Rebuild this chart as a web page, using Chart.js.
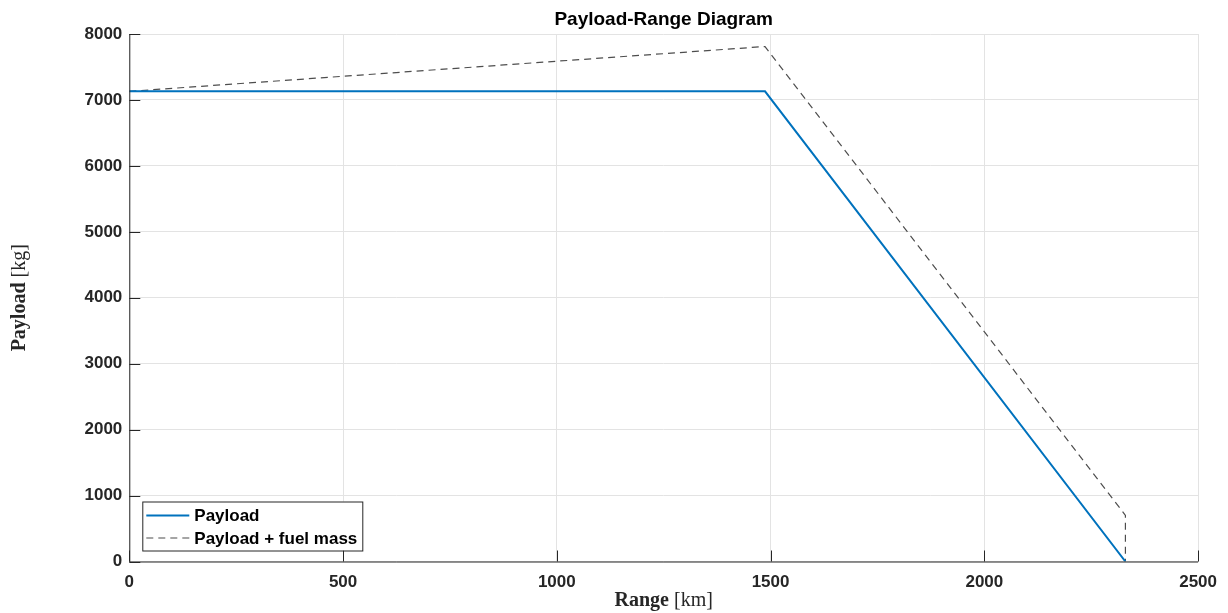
<!DOCTYPE html>
<html><head><meta charset="utf-8">
<script src="https://cdn.jsdelivr.net/npm/chart.js@4.4.0/dist/chart.umd.min.js"></script>
<style>html,body{margin:0;padding:0;background:#fff}#wrap{width:1228px;height:613px}</style>
</head><body><div id="wrap"><canvas id="c" width="1228" height="613"></canvas></div>
<script>
const payloadRange = [0, 1487, 2330];
const payloadMass = [7130, 7130, 0];
const totalRange = [0, 1487, 2330, 2330];
const totalMass = [7130, 7810, 700, 0];
const xTicks = [0, 500, 1000, 1500, 2000, 2500];
const yTicks = [0, 1000, 2000, 3000, 4000, 5000, 6000, 7000, 8000];
const seriesNames = ['Payload', 'Payload + fuel mass'];
const chartTitle = 'Payload-Range Diagram';

const pts = (xs, ys) => xs.map((x, i) => ({x, y: ys[i]}));
const AX = '#262626';

const overlay = {
  id: 'overlay',
  afterDraw(chart) {
    const ctx = chart.ctx, a = chart.chartArea, xs = chart.scales.x, ys = chart.scales.y;
    ctx.save();
    ctx.strokeStyle = AX; ctx.lineWidth = 1;
    ctx.beginPath();
    ctx.moveTo(a.left + 0.5, a.top); ctx.lineTo(a.left + 0.5, a.bottom + 0.5);
    ctx.lineTo(a.right, a.bottom + 0.5);
    ctx.stroke();
    ctx.beginPath();
    xTicks.forEach(v => { const px = Math.round(xs.getPixelForValue(v)) + 0.5; ctx.moveTo(px, a.bottom); ctx.lineTo(px, a.bottom - 11); });
    yTicks.forEach(v => { const py = Math.round(ys.getPixelForValue(v)) + 0.5; ctx.moveTo(a.left, py); ctx.lineTo(a.left + 11, py); });
    ctx.stroke();
    ctx.fillStyle = '#000';
    ctx.font = 'bold 19px "Liberation Sans", Arial, sans-serif';
    ctx.textAlign = 'center'; ctx.textBaseline = 'middle';
    ctx.fillText(chartTitle, (a.left + a.right) / 2, 20);
    const drawMixed = (bold, normal, cx, cy) => {
      ctx.font = 'bold 20px "Liberation Serif", serif';
      const w1 = ctx.measureText(bold).width;
      ctx.font = '20px "Liberation Serif", serif';
      const w2 = ctx.measureText(normal).width;
      const x0 = cx - (w1 + w2) / 2;
      ctx.textAlign = 'left'; ctx.textBaseline = 'middle';
      ctx.fillStyle = '#262626';
      ctx.font = 'bold 20px "Liberation Serif", serif';
      ctx.fillText(bold, x0, cy);
      ctx.font = '20px "Liberation Serif", serif';
      ctx.fillText(normal, x0 + w1, cy);
    };
    drawMixed('Range', ' [km]', (a.left + a.right) / 2, 601);
    ctx.save();
    ctx.translate(20, (a.top + a.bottom) / 2);
    ctx.rotate(-Math.PI / 2);
    drawMixed('Payload', ' [kg]', 0, 0);
    ctx.restore();
    const lx = a.left + 13, ly = a.bottom - 60, lw = 220, lh = 49;
    ctx.fillStyle = '#fff'; ctx.fillRect(lx, ly, lw, lh);
    ctx.strokeStyle = AX; ctx.lineWidth = 1; ctx.setLineDash([]);
    ctx.strokeRect(lx + 0.5, ly + 0.5, lw, lh);
    chart.data.datasets.forEach((ds, i) => {
      const yy = ly + 14 + i * 22.5;
      ctx.strokeStyle = ds.borderColor; ctx.lineWidth = ds.borderWidth;
      ctx.setLineDash(ds.borderDash || []);
      ctx.beginPath(); ctx.moveTo(lx + 4, yy); ctx.lineTo(lx + 47, yy); ctx.stroke();
      ctx.setLineDash([]);
      ctx.fillStyle = '#000';
      ctx.font = 'bold 17px "Liberation Sans", Arial, sans-serif';
      ctx.textAlign = 'left'; ctx.textBaseline = 'middle';
      ctx.fillText(ds.label, lx + 52, yy + 1);
    });
    ctx.restore();
  }
};

const tickFont = { family: '"Liberation Sans", Arial, sans-serif', size: 17, weight: 'bold' };

new Chart(document.getElementById('c'), {
  type: 'scatter',
  data: {
    datasets: [
      { label: seriesNames[0], data: pts(payloadRange, payloadMass), showLine: true, borderColor: '#0072BD', borderWidth: 2, pointRadius: 0, tension: 0 },
      { label: seriesNames[1], data: pts(totalRange, totalMass), showLine: true, borderColor: '#4d4d4d', borderWidth: 1.2, borderDash: [7, 5], pointRadius: 0, tension: 0 }
    ]
  },
  options: {
    responsive: false, animation: false, devicePixelRatio: 1,
    layout: { padding: { left: 0, right: 29, top: 34, bottom: 0 } },
    plugins: { legend: { display: false }, title: { display: false }, tooltip: { enabled: false } },
    scales: {
      x: {
        type: 'linear', min: 0, max: 2500,
        afterBuildTicks: s => { s.ticks = xTicks.map(v => ({value: v})); },
        afterFit: s => { s.height = 51.5; },
        grid: { color: '#e3e3e3', drawTicks: false, lineWidth: 1 },
        border: { display: false },
        ticks: { color: AX, padding: 11, font: tickFont, maxRotation: 0, callback: v => String(v) }
      },
      y: {
        type: 'linear', min: 0, max: 8000,
        afterBuildTicks: s => { s.ticks = yTicks.map(v => ({value: v})); },
        afterFit: s => { s.width = 129.3; },
        grid: { color: '#e3e3e3', drawTicks: false, lineWidth: 1 },
        border: { display: false },
        ticks: { color: AX, padding: 7, font: tickFont, callback: v => String(v) }
      }
    }
  },
  plugins: [overlay]
});
</script></body></html>
